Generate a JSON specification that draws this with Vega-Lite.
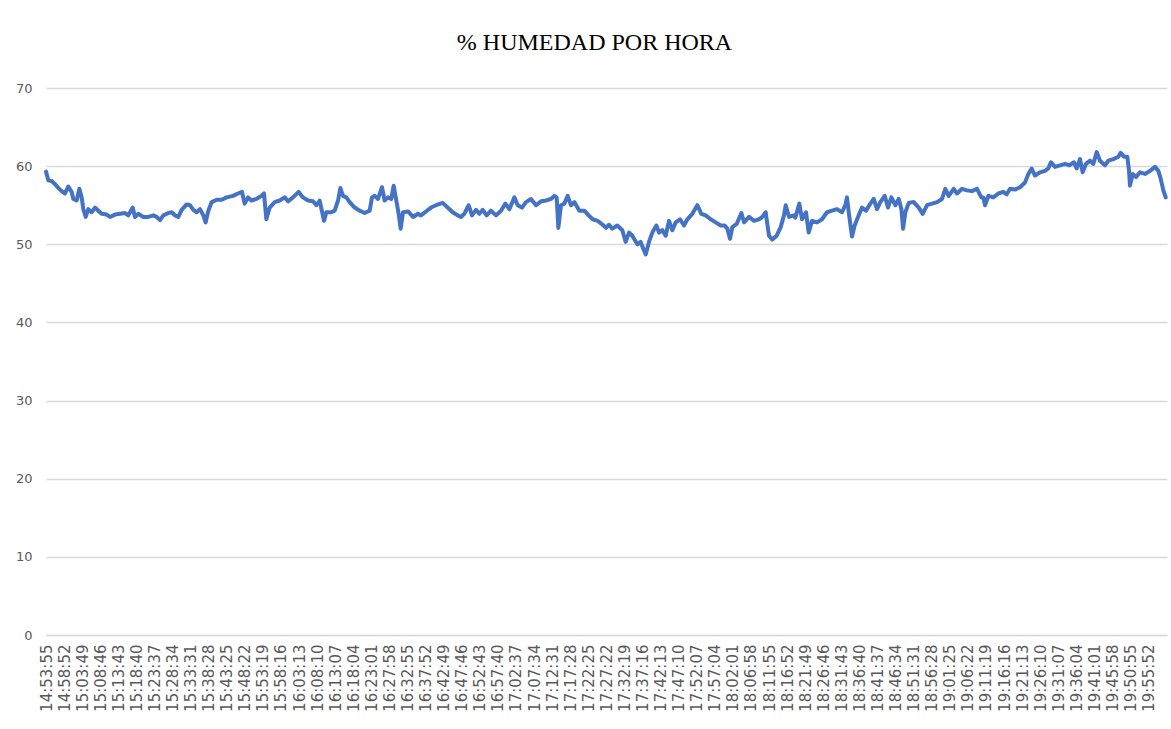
{
  "$schema": "https://vega.github.io/schema/vega-lite/v6.json",
  "width": 1121,
  "height": 547,
  "autosize": {"type": "none"},
  "padding": {"left": 46, "top": 88, "right": 4, "bottom": 94},
  "background": "white",
  "title": {
    "text": "% HUMEDAD POR HORA",
    "font": "Liberation Serif",
    "fontSize": 24,
    "fontWeight": "normal",
    "color": "#000000",
    "anchor": "middle",
    "baseline": "alphabetic",
    "offset": 35,
    "dx": -12,
    "dy": 27
  },
  "config": {
    "view": {"stroke": null},
    "axis": {
      "labelFont": "DejaVu Sans",
      "labelColor": "#595959",
      "gridColor": "#d9d9d9",
      "gridWidth": 1.5,
      "title": null
    }
  },
  "data": {
    "format": {"parse": {"hora": "date:'%H:%M:%S'"}},
    "values": [
      {"hora": "14:53:55", "humedad": 59.3},
      {"hora": "14:54:33", "humedad": 58.2},
      {"hora": "14:55:28", "humedad": 58.1},
      {"hora": "14:56:23", "humedad": 57.7},
      {"hora": "14:57:18", "humedad": 57.2},
      {"hora": "14:58:12", "humedad": 56.8},
      {"hora": "14:59:07", "humedad": 56.5},
      {"hora": "15:00:02", "humedad": 57.4},
      {"hora": "15:00:57", "humedad": 56.7},
      {"hora": "15:01:24", "humedad": 55.8},
      {"hora": "15:02:19", "humedad": 55.6},
      {"hora": "15:03:03", "humedad": 57.1},
      {"hora": "15:03:41", "humedad": 56.0},
      {"hora": "15:04:08", "humedad": 54.5},
      {"hora": "15:04:47", "humedad": 53.5},
      {"hora": "15:05:30", "humedad": 54.5},
      {"hora": "15:06:25", "humedad": 54.1},
      {"hora": "15:07:20", "humedad": 54.7},
      {"hora": "15:08:15", "humedad": 54.3},
      {"hora": "15:09:10", "humedad": 53.9},
      {"hora": "15:10:32", "humedad": 53.8},
      {"hora": "15:11:27", "humedad": 53.5},
      {"hora": "15:12:49", "humedad": 53.8},
      {"hora": "15:14:11", "humedad": 53.9},
      {"hora": "15:15:33", "humedad": 54.0},
      {"hora": "15:16:28", "humedad": 53.7},
      {"hora": "15:17:39", "humedad": 54.7},
      {"hora": "15:18:17", "humedad": 53.5},
      {"hora": "15:19:12", "humedad": 53.9},
      {"hora": "15:20:34", "humedad": 53.5},
      {"hora": "15:21:56", "humedad": 53.5},
      {"hora": "15:23:18", "humedad": 53.7},
      {"hora": "15:24:13", "humedad": 53.5},
      {"hora": "15:25:08", "humedad": 53.1},
      {"hora": "15:26:03", "humedad": 53.7},
      {"hora": "15:27:25", "humedad": 54.0},
      {"hora": "15:28:20", "humedad": 54.1},
      {"hora": "15:29:14", "humedad": 53.7},
      {"hora": "15:30:09", "humedad": 53.5},
      {"hora": "15:31:04", "humedad": 54.4},
      {"hora": "15:32:26", "humedad": 55.1},
      {"hora": "15:33:21", "humedad": 55.0},
      {"hora": "15:34:16", "humedad": 54.4},
      {"hora": "15:35:10", "humedad": 54.1},
      {"hora": "15:36:05", "humedad": 54.5},
      {"hora": "15:37:00", "humedad": 53.7},
      {"hora": "15:37:38", "humedad": 52.8},
      {"hora": "15:38:22", "humedad": 54.3},
      {"hora": "15:39:17", "humedad": 55.4},
      {"hora": "15:40:39", "humedad": 55.7},
      {"hora": "15:42:01", "humedad": 55.7},
      {"hora": "15:43:23", "humedad": 56.0},
      {"hora": "15:45:07", "humedad": 56.2},
      {"hora": "15:46:30", "humedad": 56.5},
      {"hora": "15:47:35", "humedad": 56.7},
      {"hora": "15:48:19", "humedad": 55.2},
      {"hora": "15:49:14", "humedad": 56.0},
      {"hora": "15:50:09", "humedad": 55.6},
      {"hora": "15:51:31", "humedad": 55.8},
      {"hora": "15:52:53", "humedad": 56.2},
      {"hora": "15:53:37", "humedad": 56.5},
      {"hora": "15:54:15", "humedad": 53.2},
      {"hora": "15:55:10", "humedad": 54.7},
      {"hora": "15:56:32", "humedad": 55.4},
      {"hora": "15:57:54", "humedad": 55.6},
      {"hora": "15:59:16", "humedad": 56.0},
      {"hora": "16:00:11", "humedad": 55.5},
      {"hora": "16:01:33", "humedad": 56.0},
      {"hora": "16:03:06", "humedad": 56.7},
      {"hora": "16:04:17", "humedad": 56.0},
      {"hora": "16:05:40", "humedad": 55.6},
      {"hora": "16:07:02", "humedad": 55.5},
      {"hora": "16:07:57", "humedad": 55.0},
      {"hora": "16:08:51", "humedad": 55.6},
      {"hora": "16:10:03", "humedad": 53.0},
      {"hora": "16:10:41", "humedad": 54.1},
      {"hora": "16:12:03", "humedad": 54.1},
      {"hora": "16:12:58", "humedad": 54.3},
      {"hora": "16:13:53", "humedad": 55.6},
      {"hora": "16:14:31", "humedad": 57.2},
      {"hora": "16:15:15", "humedad": 56.2},
      {"hora": "16:16:09", "humedad": 56.0},
      {"hora": "16:17:04", "humedad": 55.4},
      {"hora": "16:18:26", "humedad": 54.7},
      {"hora": "16:19:49", "humedad": 54.3},
      {"hora": "16:21:11", "humedad": 54.0},
      {"hora": "16:22:33", "humedad": 54.3},
      {"hora": "16:23:11", "humedad": 56.0},
      {"hora": "16:23:55", "humedad": 56.2},
      {"hora": "16:24:50", "humedad": 55.8},
      {"hora": "16:25:55", "humedad": 57.3},
      {"hora": "16:26:39", "humedad": 55.6},
      {"hora": "16:27:34", "humedad": 56.0},
      {"hora": "16:28:29", "humedad": 55.8},
      {"hora": "16:29:07", "humedad": 57.5},
      {"hora": "16:29:51", "humedad": 55.6},
      {"hora": "16:30:29", "humedad": 53.9},
      {"hora": "16:31:02", "humedad": 52.0},
      {"hora": "16:31:41", "humedad": 54.1},
      {"hora": "16:33:03", "humedad": 54.2},
      {"hora": "16:34:25", "humedad": 53.5},
      {"hora": "16:35:47", "humedad": 53.9},
      {"hora": "16:36:36", "humedad": 53.7},
      {"hora": "16:37:58", "humedad": 54.2},
      {"hora": "16:39:21", "humedad": 54.7},
      {"hora": "16:40:43", "humedad": 55.0},
      {"hora": "16:42:32", "humedad": 55.3},
      {"hora": "16:43:54", "humedad": 54.7},
      {"hora": "16:45:17", "humedad": 54.1},
      {"hora": "16:46:39", "humedad": 53.7},
      {"hora": "16:47:33", "humedad": 53.5},
      {"hora": "16:48:28", "humedad": 53.9},
      {"hora": "16:49:39", "humedad": 55.0},
      {"hora": "16:50:34", "humedad": 53.7},
      {"hora": "16:51:40", "humedad": 54.4},
      {"hora": "16:52:35", "humedad": 53.9},
      {"hora": "16:53:30", "humedad": 54.4},
      {"hora": "16:54:35", "humedad": 53.7},
      {"hora": "16:55:46", "humedad": 54.3},
      {"hora": "16:57:09", "humedad": 53.7},
      {"hora": "16:58:31", "humedad": 54.3},
      {"hora": "16:59:42", "humedad": 55.2},
      {"hora": "17:00:48", "humedad": 54.5},
      {"hora": "17:02:10", "humedad": 56.0},
      {"hora": "17:03:05", "humedad": 55.0},
      {"hora": "17:04:16", "humedad": 54.7},
      {"hora": "17:05:21", "humedad": 55.4},
      {"hora": "17:06:44", "humedad": 55.8},
      {"hora": "17:08:06", "humedad": 55.0},
      {"hora": "17:09:28", "humedad": 55.5},
      {"hora": "17:10:50", "humedad": 55.6},
      {"hora": "17:12:12", "humedad": 55.8},
      {"hora": "17:13:07", "humedad": 56.2},
      {"hora": "17:13:45", "humedad": 56.0},
      {"hora": "17:14:13", "humedad": 52.1},
      {"hora": "17:14:56", "humedad": 55.0},
      {"hora": "17:15:51", "humedad": 55.2},
      {"hora": "17:16:46", "humedad": 56.2},
      {"hora": "17:17:41", "humedad": 55.0},
      {"hora": "17:18:36", "humedad": 55.4},
      {"hora": "17:19:58", "humedad": 54.3},
      {"hora": "17:21:20", "humedad": 54.3},
      {"hora": "17:22:31", "humedad": 53.7},
      {"hora": "17:23:37", "humedad": 53.2},
      {"hora": "17:24:59", "humedad": 53.0},
      {"hora": "17:26:21", "humedad": 52.5},
      {"hora": "17:27:16", "humedad": 52.1},
      {"hora": "17:28:05", "humedad": 52.5},
      {"hora": "17:29:00", "humedad": 52.0},
      {"hora": "17:30:22", "humedad": 52.4},
      {"hora": "17:31:44", "humedad": 51.8},
      {"hora": "17:32:39", "humedad": 50.3},
      {"hora": "17:33:34", "humedad": 51.5},
      {"hora": "17:34:28", "humedad": 51.1},
      {"hora": "17:35:51", "humedad": 50.0},
      {"hora": "17:36:45", "humedad": 50.3},
      {"hora": "17:37:40", "humedad": 49.2},
      {"hora": "17:38:08", "humedad": 48.7},
      {"hora": "17:39:02", "humedad": 50.3},
      {"hora": "17:39:57", "humedad": 51.5},
      {"hora": "17:41:03", "humedad": 52.4},
      {"hora": "17:41:47", "humedad": 51.5},
      {"hora": "17:42:42", "humedad": 51.8},
      {"hora": "17:43:36", "humedad": 51.1},
      {"hora": "17:44:31", "humedad": 53.0},
      {"hora": "17:45:26", "humedad": 51.8},
      {"hora": "17:46:21", "humedad": 52.8},
      {"hora": "17:47:32", "humedad": 53.2},
      {"hora": "17:48:37", "humedad": 52.4},
      {"hora": "17:49:32", "humedad": 53.2},
      {"hora": "17:50:54", "humedad": 53.9},
      {"hora": "17:52:16", "humedad": 55.0},
      {"hora": "17:53:22", "humedad": 53.9},
      {"hora": "17:54:33", "humedad": 53.7},
      {"hora": "17:55:55", "humedad": 53.2},
      {"hora": "17:57:18", "humedad": 52.8},
      {"hora": "17:58:40", "humedad": 52.4},
      {"hora": "17:59:46", "humedad": 52.4},
      {"hora": "18:00:29", "humedad": 52.0},
      {"hora": "18:01:13", "humedad": 50.7},
      {"hora": "18:01:52", "humedad": 52.2},
      {"hora": "18:03:03", "humedad": 52.6},
      {"hora": "18:04:20", "humedad": 54.0},
      {"hora": "18:05:04", "humedad": 52.8},
      {"hora": "18:06:26", "humedad": 53.5},
      {"hora": "18:07:48", "humedad": 53.0},
      {"hora": "18:09:10", "humedad": 53.2},
      {"hora": "18:10:05", "humedad": 53.5},
      {"hora": "18:10:59", "humedad": 54.1},
      {"hora": "18:11:54", "humedad": 51.1},
      {"hora": "18:12:49", "humedad": 50.6},
      {"hora": "18:14:00", "humedad": 51.1},
      {"hora": "18:15:06", "humedad": 52.2},
      {"hora": "18:16:00", "humedad": 53.7},
      {"hora": "18:16:28", "humedad": 55.0},
      {"hora": "18:17:23", "humedad": 53.5},
      {"hora": "18:18:45", "humedad": 53.7},
      {"hora": "18:19:06", "humedad": 53.4},
      {"hora": "18:20:12", "humedad": 55.2},
      {"hora": "18:20:56", "humedad": 53.2},
      {"hora": "18:22:02", "humedad": 54.1},
      {"hora": "18:22:46", "humedad": 51.5},
      {"hora": "18:23:40", "humedad": 53.0},
      {"hora": "18:25:03", "humedad": 52.8},
      {"hora": "18:26:25", "humedad": 53.2},
      {"hora": "18:27:47", "humedad": 54.1},
      {"hora": "18:29:09", "humedad": 54.3},
      {"hora": "18:30:31", "humedad": 54.5},
      {"hora": "18:31:53", "humedad": 54.1},
      {"hora": "18:32:48", "humedad": 55.0},
      {"hora": "18:33:15", "humedad": 56.0},
      {"hora": "18:33:54", "humedad": 53.5},
      {"hora": "18:34:38", "humedad": 51.0},
      {"hora": "18:35:21", "humedad": 52.4},
      {"hora": "18:36:27", "humedad": 53.7},
      {"hora": "18:37:22", "humedad": 54.7},
      {"hora": "18:38:28", "humedad": 54.3},
      {"hora": "18:39:39", "humedad": 55.2},
      {"hora": "18:40:34", "humedad": 55.8},
      {"hora": "18:41:28", "humedad": 54.5},
      {"hora": "18:42:23", "humedad": 55.4},
      {"hora": "18:43:35", "humedad": 56.2},
      {"hora": "18:44:29", "humedad": 54.7},
      {"hora": "18:45:24", "humedad": 56.0},
      {"hora": "18:46:30", "humedad": 55.0},
      {"hora": "18:47:25", "humedad": 55.8},
      {"hora": "18:48:09", "humedad": 54.5},
      {"hora": "18:48:36", "humedad": 52.0},
      {"hora": "18:49:15", "humedad": 54.1},
      {"hora": "18:50:10", "humedad": 55.3},
      {"hora": "18:51:32", "humedad": 55.4},
      {"hora": "18:52:54", "humedad": 54.7},
      {"hora": "18:53:59", "humedad": 53.9},
      {"hora": "18:55:11", "humedad": 55.0},
      {"hora": "18:56:33", "humedad": 55.2},
      {"hora": "18:57:55", "humedad": 55.4},
      {"hora": "18:59:17", "humedad": 55.8},
      {"hora": "19:00:11", "humedad": 57.1},
      {"hora": "19:01:06", "humedad": 56.2},
      {"hora": "19:02:28", "humedad": 57.1},
      {"hora": "19:03:23", "humedad": 56.5},
      {"hora": "19:04:45", "humedad": 57.1},
      {"hora": "19:06:07", "humedad": 56.9},
      {"hora": "19:07:29", "humedad": 56.8},
      {"hora": "19:08:51", "humedad": 57.1},
      {"hora": "19:10:03", "humedad": 56.0},
      {"hora": "19:10:35", "humedad": 56.0},
      {"hora": "19:11:03", "humedad": 55.0},
      {"hora": "19:11:58", "humedad": 56.2},
      {"hora": "19:13:20", "humedad": 56.0},
      {"hora": "19:14:42", "humedad": 56.5},
      {"hora": "19:16:04", "humedad": 56.7},
      {"hora": "19:16:59", "humedad": 56.4},
      {"hora": "19:17:54", "humedad": 57.1},
      {"hora": "19:19:16", "humedad": 57.0},
      {"hora": "19:20:38", "humedad": 57.3},
      {"hora": "19:22:00", "humedad": 57.9},
      {"hora": "19:22:55", "humedad": 59.0},
      {"hora": "19:23:49", "humedad": 59.7},
      {"hora": "19:24:44", "humedad": 58.8},
      {"hora": "19:26:06", "humedad": 59.2},
      {"hora": "19:27:29", "humedad": 59.4},
      {"hora": "19:28:23", "humedad": 59.7},
      {"hora": "19:29:07", "humedad": 60.5},
      {"hora": "19:30:13", "humedad": 59.9},
      {"hora": "19:31:35", "humedad": 60.1},
      {"hora": "19:32:57", "humedad": 60.3},
      {"hora": "19:34:08", "humedad": 60.1},
      {"hora": "19:35:25", "humedad": 60.5},
      {"hora": "19:36:09", "humedad": 59.7},
      {"hora": "19:37:04", "humedad": 60.9},
      {"hora": "19:37:47", "humedad": 59.2},
      {"hora": "19:38:42", "humedad": 60.3},
      {"hora": "19:39:48", "humedad": 60.7},
      {"hora": "19:40:43", "humedad": 60.3},
      {"hora": "19:41:38", "humedad": 61.8},
      {"hora": "19:42:32", "humedad": 60.7},
      {"hora": "19:43:54", "humedad": 60.1},
      {"hora": "19:44:49", "humedad": 60.7},
      {"hora": "19:46:11", "humedad": 60.9},
      {"hora": "19:47:34", "humedad": 61.2},
      {"hora": "19:48:12", "humedad": 61.7},
      {"hora": "19:49:07", "humedad": 61.2},
      {"hora": "19:50:01", "humedad": 61.2},
      {"hora": "19:50:29", "humedad": 59.4},
      {"hora": "19:50:45", "humedad": 57.5},
      {"hora": "19:51:29", "humedad": 59.0},
      {"hora": "19:52:24", "humedad": 58.6},
      {"hora": "19:53:29", "humedad": 59.2},
      {"hora": "19:54:52", "humedad": 59.0},
      {"hora": "19:56:14", "humedad": 59.4},
      {"hora": "19:57:36", "humedad": 59.9},
      {"hora": "19:58:31", "humedad": 59.4},
      {"hora": "19:59:09", "humedad": 58.4},
      {"hora": "19:59:53", "humedad": 56.9},
      {"hora": "20:00:32", "humedad": 56.0}
    ]
  },
  "mark": {"type": "line", "color": "#4472C4", "strokeWidth": 4, "strokeJoin": "round", "strokeCap": "round"},
  "encoding": {
    "x": {
      "field": "hora",
      "type": "temporal",
      "scale": {
        "domain": [
          {"year": 1900, "month": 1, "date": 1, "hours": 14, "minutes": 53, "seconds": 55},
          {"year": 1900, "month": 1, "date": 1, "hours": 20, "minutes": 0, "seconds": 53}
        ]
      },
      "axis": {
        "format": "%H:%M:%S",
        "labelAngle": -90,
        "labelFontSize": 15,
        "labelPadding": 9,
        "labelOverlap": false,
        "labelFlush": false,
        "labelBound": false,
        "ticks": false,
        "grid": false,
        "domain": true,
        "domainColor": "#d9d9d9",
        "domainWidth": 1.5,
        "values": [
          {"year": 1900, "month": 1, "date": 1, "hours": 14, "minutes": 53, "seconds": 55},
          {"year": 1900, "month": 1, "date": 1, "hours": 14, "minutes": 58, "seconds": 52},
          {"year": 1900, "month": 1, "date": 1, "hours": 15, "minutes": 3, "seconds": 49},
          {"year": 1900, "month": 1, "date": 1, "hours": 15, "minutes": 8, "seconds": 46},
          {"year": 1900, "month": 1, "date": 1, "hours": 15, "minutes": 13, "seconds": 43},
          {"year": 1900, "month": 1, "date": 1, "hours": 15, "minutes": 18, "seconds": 40},
          {"year": 1900, "month": 1, "date": 1, "hours": 15, "minutes": 23, "seconds": 37},
          {"year": 1900, "month": 1, "date": 1, "hours": 15, "minutes": 28, "seconds": 34},
          {"year": 1900, "month": 1, "date": 1, "hours": 15, "minutes": 33, "seconds": 31},
          {"year": 1900, "month": 1, "date": 1, "hours": 15, "minutes": 38, "seconds": 28},
          {"year": 1900, "month": 1, "date": 1, "hours": 15, "minutes": 43, "seconds": 25},
          {"year": 1900, "month": 1, "date": 1, "hours": 15, "minutes": 48, "seconds": 22},
          {"year": 1900, "month": 1, "date": 1, "hours": 15, "minutes": 53, "seconds": 19},
          {"year": 1900, "month": 1, "date": 1, "hours": 15, "minutes": 58, "seconds": 16},
          {"year": 1900, "month": 1, "date": 1, "hours": 16, "minutes": 3, "seconds": 13},
          {"year": 1900, "month": 1, "date": 1, "hours": 16, "minutes": 8, "seconds": 10},
          {"year": 1900, "month": 1, "date": 1, "hours": 16, "minutes": 13, "seconds": 7},
          {"year": 1900, "month": 1, "date": 1, "hours": 16, "minutes": 18, "seconds": 4},
          {"year": 1900, "month": 1, "date": 1, "hours": 16, "minutes": 23, "seconds": 1},
          {"year": 1900, "month": 1, "date": 1, "hours": 16, "minutes": 27, "seconds": 58},
          {"year": 1900, "month": 1, "date": 1, "hours": 16, "minutes": 32, "seconds": 55},
          {"year": 1900, "month": 1, "date": 1, "hours": 16, "minutes": 37, "seconds": 52},
          {"year": 1900, "month": 1, "date": 1, "hours": 16, "minutes": 42, "seconds": 49},
          {"year": 1900, "month": 1, "date": 1, "hours": 16, "minutes": 47, "seconds": 46},
          {"year": 1900, "month": 1, "date": 1, "hours": 16, "minutes": 52, "seconds": 43},
          {"year": 1900, "month": 1, "date": 1, "hours": 16, "minutes": 57, "seconds": 40},
          {"year": 1900, "month": 1, "date": 1, "hours": 17, "minutes": 2, "seconds": 37},
          {"year": 1900, "month": 1, "date": 1, "hours": 17, "minutes": 7, "seconds": 34},
          {"year": 1900, "month": 1, "date": 1, "hours": 17, "minutes": 12, "seconds": 31},
          {"year": 1900, "month": 1, "date": 1, "hours": 17, "minutes": 17, "seconds": 28},
          {"year": 1900, "month": 1, "date": 1, "hours": 17, "minutes": 22, "seconds": 25},
          {"year": 1900, "month": 1, "date": 1, "hours": 17, "minutes": 27, "seconds": 22},
          {"year": 1900, "month": 1, "date": 1, "hours": 17, "minutes": 32, "seconds": 19},
          {"year": 1900, "month": 1, "date": 1, "hours": 17, "minutes": 37, "seconds": 16},
          {"year": 1900, "month": 1, "date": 1, "hours": 17, "minutes": 42, "seconds": 13},
          {"year": 1900, "month": 1, "date": 1, "hours": 17, "minutes": 47, "seconds": 10},
          {"year": 1900, "month": 1, "date": 1, "hours": 17, "minutes": 52, "seconds": 7},
          {"year": 1900, "month": 1, "date": 1, "hours": 17, "minutes": 57, "seconds": 4},
          {"year": 1900, "month": 1, "date": 1, "hours": 18, "minutes": 2, "seconds": 1},
          {"year": 1900, "month": 1, "date": 1, "hours": 18, "minutes": 6, "seconds": 58},
          {"year": 1900, "month": 1, "date": 1, "hours": 18, "minutes": 11, "seconds": 55},
          {"year": 1900, "month": 1, "date": 1, "hours": 18, "minutes": 16, "seconds": 52},
          {"year": 1900, "month": 1, "date": 1, "hours": 18, "minutes": 21, "seconds": 49},
          {"year": 1900, "month": 1, "date": 1, "hours": 18, "minutes": 26, "seconds": 46},
          {"year": 1900, "month": 1, "date": 1, "hours": 18, "minutes": 31, "seconds": 43},
          {"year": 1900, "month": 1, "date": 1, "hours": 18, "minutes": 36, "seconds": 40},
          {"year": 1900, "month": 1, "date": 1, "hours": 18, "minutes": 41, "seconds": 37},
          {"year": 1900, "month": 1, "date": 1, "hours": 18, "minutes": 46, "seconds": 34},
          {"year": 1900, "month": 1, "date": 1, "hours": 18, "minutes": 51, "seconds": 31},
          {"year": 1900, "month": 1, "date": 1, "hours": 18, "minutes": 56, "seconds": 28},
          {"year": 1900, "month": 1, "date": 1, "hours": 19, "minutes": 1, "seconds": 25},
          {"year": 1900, "month": 1, "date": 1, "hours": 19, "minutes": 6, "seconds": 22},
          {"year": 1900, "month": 1, "date": 1, "hours": 19, "minutes": 11, "seconds": 19},
          {"year": 1900, "month": 1, "date": 1, "hours": 19, "minutes": 16, "seconds": 16},
          {"year": 1900, "month": 1, "date": 1, "hours": 19, "minutes": 21, "seconds": 13},
          {"year": 1900, "month": 1, "date": 1, "hours": 19, "minutes": 26, "seconds": 10},
          {"year": 1900, "month": 1, "date": 1, "hours": 19, "minutes": 31, "seconds": 7},
          {"year": 1900, "month": 1, "date": 1, "hours": 19, "minutes": 36, "seconds": 4},
          {"year": 1900, "month": 1, "date": 1, "hours": 19, "minutes": 41, "seconds": 1},
          {"year": 1900, "month": 1, "date": 1, "hours": 19, "minutes": 45, "seconds": 58},
          {"year": 1900, "month": 1, "date": 1, "hours": 19, "minutes": 50, "seconds": 55},
          {"year": 1900, "month": 1, "date": 1, "hours": 19, "minutes": 55, "seconds": 52}
        ]
      }
    },
    "y": {
      "field": "humedad",
      "type": "quantitative",
      "scale": {"domain": [0, 70], "nice": false},
      "axis": {
        "values": [0, 10, 20, 30, 40, 50, 60, 70],
        "labelFontSize": 13,
        "labelPadding": 14,
        "ticks": false,
        "domain": false,
        "grid": true
      }
    }
  }
}
